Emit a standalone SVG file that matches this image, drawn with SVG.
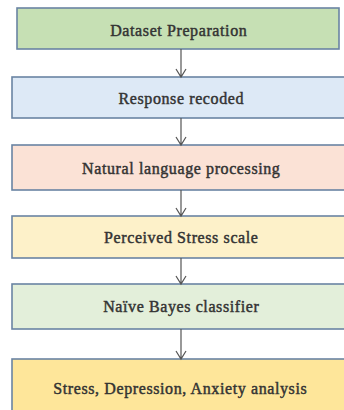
<svg xmlns="http://www.w3.org/2000/svg" width="344" height="410" viewBox="0 0 344 410">
<defs>
<style>
.box{stroke:#6a84a3;stroke-width:1.6}
.t{font-family:"Liberation Serif","Times New Roman",serif;font-size:16px;letter-spacing:0.6px;fill:#333333;stroke:#333333;stroke-width:0.45;text-anchor:middle}
.c{stroke:#555;stroke-width:1.2;fill:none}
</style>
</defs>
<rect width="344" height="410" fill="#ffffff"/>
<g id="n1"><rect class="box" x="17" y="8" width="322" height="41" fill="#c6e0b4"/><text class="t" x="178.8" y="35.5">Dataset Preparation</text></g>
<g id="n2"><rect class="box" x="12" y="77" width="340" height="41" fill="#dde9f6"/><text class="t" x="181.3" y="104">Response recoded</text></g>
<g id="n3"><rect class="box" x="12" y="145" width="340" height="45" fill="#fbe2d6"/><text class="t" x="181.3" y="173.5">Natural language processing</text></g>
<g id="n4"><rect class="box" x="12" y="216" width="340" height="42" fill="#fdf1c9"/><text class="t" x="181.3" y="243">Perceived Stress scale</text></g>
<g id="n5"><rect class="box" x="12" y="284" width="340" height="45" fill="#e3efda"/><text class="t" x="181.3" y="312">Naïve Bayes classifier</text></g>
<g id="n6"><rect class="box" x="12" y="359" width="340" height="60" fill="#fee69a"/><text class="t" x="180.3" y="394">Stress, Depression, Anxiety analysis</text></g>
<g id="connectors">
<path class="c" d="M181 49V77M176 69L181 77L186 69"/>
<path class="c" d="M181 118V145M176 137L181 145L186 137"/>
<path class="c" d="M181 190V216M176 208L181 216L186 208"/>
<path class="c" d="M181 258V284M176 276L181 284L186 276"/>
<path class="c" d="M181 329V359M176 351L181 359L186 351"/>
</g>
</svg>
